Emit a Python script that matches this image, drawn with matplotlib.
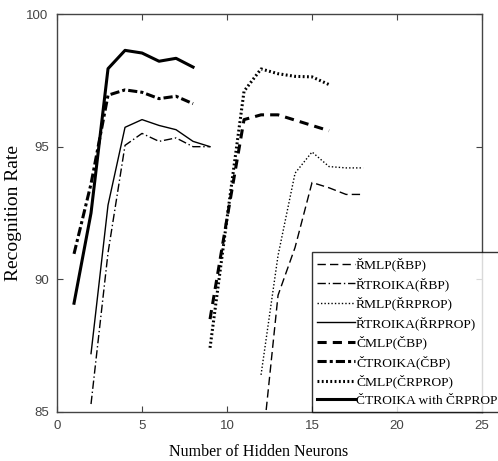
import numpy as np
import matplotlib.pyplot as plt

# hidden neuron counts for the two groups of networks
x_troika = [1, 2, 3, 4, 5, 6, 7, 8]
x_troika_r = [2, 3, 4, 5, 6, 7, 8, 9]
x_mlp_c = [9, 10, 11, 12, 13, 14, 15, 16]
x_mlp_r = [12, 13, 14, 15, 16, 17, 18]

# recognition rates (%)
r_mlp_bp = [83.2, 89.4, 91.2, 93.65, 93.45, 93.2, 93.2]
r_troika_bp = [85.3, 91.0, 95.05, 95.5, 95.2, 95.33, 95.0, 95.0]
r_mlp_rprop = [86.4, 90.9, 94.0, 94.8, 94.25, 94.2, 94.2]
r_troika_rprop = [87.2, 92.8, 95.73, 96.02, 95.8, 95.64, 95.2, 95.0]
c_mlp_bp = [88.5, 92.3, 96.02, 96.2, 96.2, 96.0, 95.8, 95.6]
c_troika_bp = [90.96, 93.6, 96.94, 97.14, 97.05, 96.81, 96.9, 96.62]
c_mlp_rprop = [87.42, 92.3, 97.09, 97.93, 97.75, 97.65, 97.63, 97.34]
c_troika_rprop = [89.1, 92.5, 97.94, 98.63, 98.53, 98.22, 98.33, 98.0]

labels = ["ŘMLP(ŘBP)", "ŘTROIKA(ŘBP)", "ŘMLP(ŘRPROP)", "ŘTROIKA(ŘRPROP)",
          "ČMLP(ČBP)", "ČTROIKA(ČBP)", "ČMLP(ČRPROP)", "ČTROIKA with ČRPROP"]

fig = plt.figure(figsize=(4.98, 4.61), dpi=100)
ax = fig.add_axes([0.1145, 0.1063, 0.8535, 0.8633])

k = 'black'
ax.plot(x_mlp_r, r_mlp_bp, color=k, lw=1.0, ls=(0, (6, 3)), label=labels[0])
ax.plot(x_troika_r, r_troika_bp, color=k, lw=1.0, ls=(0, (6, 2, 1, 2)), label=labels[1])
ax.plot(x_mlp_r, r_mlp_rprop, color=k, lw=1.0, ls=(0, (1, 1.5)), label=labels[2])
ax.plot(x_troika_r, r_troika_rprop, color=k, lw=1.0, ls='-', label=labels[3])
ax.plot(x_mlp_c, c_mlp_bp, color=k, lw=2.2, ls=(0, (3, 2)), label=labels[4])
ax.plot(x_troika, c_troika_bp, color=k, lw=2.2, ls=(0, (3, 1, 1, 1)), label=labels[5])
ax.plot(x_mlp_c, c_mlp_rprop, color=k, lw=2.2, ls=(0, (0.6, 0.8)), label=labels[6])
ax.plot(x_troika, c_troika_rprop, color=k, lw=2.2, ls='-', label=labels[7])

ax.set_xlim(0, 25)
ax.set_ylim(85, 100)
ax.set_xticks([0, 5, 10, 15, 20, 25])
ax.set_yticks([85, 90, 95, 100])

gray = '#444444'
for s in ax.spines.values():
    s.set_color(gray)
    s.set_linewidth(1.0)
ax.tick_params(direction='in', top=True, right=True, length=4, color=gray,
               labelcolor=gray, labelsize=9.5, pad=6)
for t in ax.get_xticklabels() + ax.get_yticklabels():
    t.set_family('Liberation Sans')

serif = 'Liberation Serif'
ax.set_xlabel("Number of Hidden Neurons", family=serif, fontsize=11.5)
ax.xaxis.set_label_coords(0.474, -0.08)
ax.set_ylabel("Recognition Rate", family=serif, fontsize=14, labelpad=3)

leg = ax.legend(loc='lower left', bbox_to_anchor=(0.599, 0.0), prop={'family': serif, 'size': 9.7},
                frameon=True, fancybox=False, edgecolor='black', handlelength=2.8,
                handletextpad=0.1, labelspacing=0.43, borderpad=0.4, borderaxespad=0)
leg.get_frame().set_linewidth(1.0)
leg.set_clip_on(False)

fig.savefig("out.png", dpi=100)
